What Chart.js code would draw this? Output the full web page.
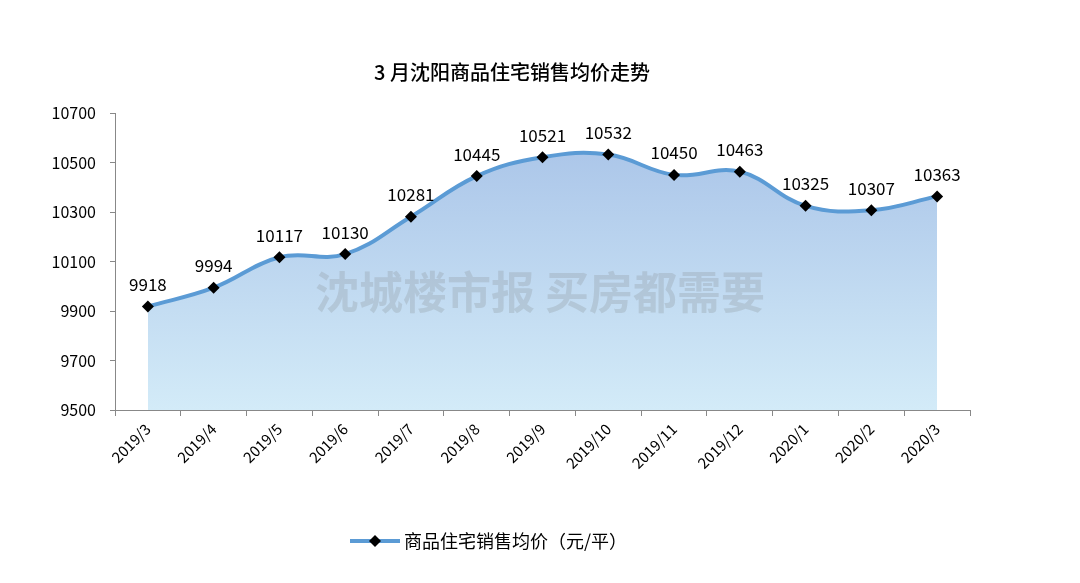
<!DOCTYPE html>
<html><head><meta charset="utf-8">
<script src="https://cdn.jsdelivr.net/npm/chart.js@4"></script>
<style>body{margin:0;background:#fff}</style>
</head><body>
<canvas id="c" width="1080" height="583"></canvas>
<script>
const months = ['2019/3','2019/4','2019/5','2019/6','2019/7','2019/8','2019/9','2019/10','2019/11','2019/12','2020/1','2020/2','2020/3'];
const avgPrice = [9918, 9994, 10117, 10130, 10281, 10445, 10521, 10532, 10450, 10463, 10325, 10307, 10363];
const chartTitle = '3 月沈阳商品住宅销售均价走势';
const seriesName = '商品住宅销售均价（元/平）';
const watermark = '沈城楼市报 买房都需要';
const font = '"Noto Sans CJK SC", sans-serif';

// 标题・图例・水印・数据标签
const extras = {
    id: 'extras',
    afterDatasetsDraw(chart) {
        const c = chart.ctx;
        c.save();
        c.fillStyle = 'rgba(150,160,170,0.35)';
        c.font = 'bold 44px ' + font;
        c.textAlign = 'center';
        c.textBaseline = 'middle';
        c.fillText(watermark, 540, 292);
        c.restore();
    },
    afterDraw(chart) {
        const c = chart.ctx;
        c.save();
        c.fillStyle = '#000';
        c.textAlign = 'center';
        c.textBaseline = 'middle';
        c.font = '500 20px ' + font;
        c.fillText(chartTitle, 512, 72);
        c.font = '17px ' + font;
        chart.getDatasetMeta(0).data.forEach((p, i) => {
            c.fillText(String(avgPrice[i]), p.x, p.y - 22);
        });
        // 图例
        c.strokeStyle = '#5b9bd5';
        c.lineWidth = 4;
        c.beginPath(); c.moveTo(350, 541); c.lineTo(400, 541); c.stroke();
        c.fillStyle = '#000';
        c.beginPath(); c.moveTo(375, 535); c.lineTo(381, 541); c.lineTo(375, 547); c.lineTo(369, 541); c.fill();
        c.textAlign = 'left';
        c.font = '18px ' + font;
        c.fillText(seriesName, 404, 541);
        c.restore();
    }
};

const ctx = document.getElementById('c');
new Chart(ctx, {
    type: 'line',
    data: {
        labels: months,
        datasets: [{
            data: avgPrice,
            borderColor: '#5b9bd5',
            borderWidth: 4,
            tension: 0.4,
            fill: 'start',
            backgroundColor: context => {
                const area = context.chart.chartArea;
                if (!area) return '#bcd3ee';
                const g = context.chart.ctx.createLinearGradient(0, area.top, 0, area.bottom);
                g.addColorStop(0, '#a6c1e7');
                g.addColorStop(1, '#d3ebf8');
                return g;
            },
            pointStyle: 'rectRot',
            pointRadius: 6,
            pointBackgroundColor: '#000',
            pointBorderColor: '#000',
            pointBorderWidth: 0,
        }]
    },
    options: {
        responsive: false,
        animation: false,
        layout: { padding: { left: 20, right: 110, top: 113, bottom: 0 } },
        plugins: { legend: { display: false }, title: { display: false }, tooltip: { enabled: false } },
        scales: {
            x: {
                offset: true,
                grid: { display: true, drawOnChartArea: false, offset: true, color: '#888', tickLength: 6 },
                border: { color: '#888' },
                ticks: { color: '#000', font: { size: 15, family: font }, maxRotation: 45, minRotation: 45, padding: 4 },
                afterFit: s => { s.height = 173; }
            },
            y: {
                min: 9500, max: 10700,
                grid: { display: true, drawOnChartArea: false, color: '#888', tickLength: 5 },
                border: { color: '#888' },
                ticks: { stepSize: 200, color: '#000', font: { size: 16, family: font }, padding: 14,
                    callback: v => String(v) },
                afterFit: s => { s.width = 95; }
            }
        }
    },
    plugins: [extras]
});
</script>
</body></html>
